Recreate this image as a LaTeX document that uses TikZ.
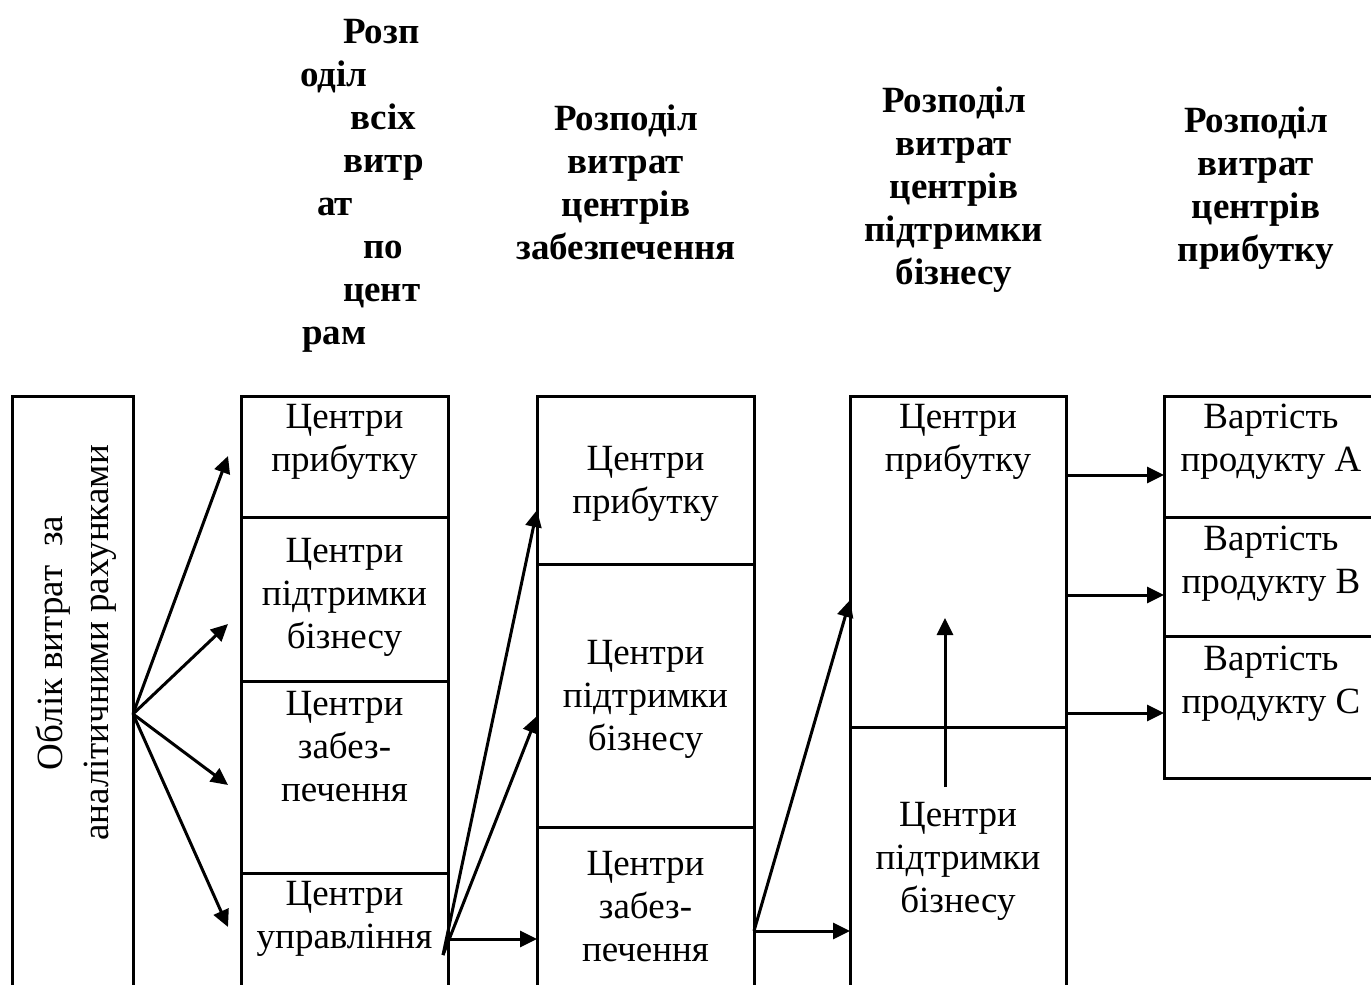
\documentclass[tikz,border=0pt]{standalone}
\usepackage{fontspec}
\setmainfont{Liberation Serif}
\usetikzlibrary{arrows.meta}
\begin{document}
\begin{tikzpicture}[x=1pt,y=-1pt,
  ln/.style={line width=3pt},
  arr/.style={line width=3pt,-{Triangle[length=17pt,width=16pt]}},
  txt/.style={anchor=north,inner sep=0pt,align=center,font=\fontsize{37}{43}\selectfont},
  hdr/.style={anchor=north,inner sep=0pt,align=center,font=\fontsize{37}{43}\selectfont\bfseries}]
\useasboundingbox (0,0) rectangle (1371,985);
\clip (0,0) rectangle (1371,985);

% headers
\node[hdr,anchor=north west,align=left] (h1) at (300,19.5)
 {\hspace*{43pt}Розп\\оділ\\\hspace*{50pt}всіх\\\hspace*{43pt}витр\\\hspace*{17pt}ат\\\hspace*{63pt}по\\\hspace*{43pt}цент\\\hspace*{2pt}рам};
\node[hdr] (h2) at (626,105) {Розподіл\\витрат\\центрів\\забезпечення};
\node[hdr] (h3) at (954,87) {Розподіл\\витрат\\центрів\\підтримки\\бізнесу};
\node[hdr] (h4) at (1256,107) {Розподіл\\витрат\\центрів\\прибутку};

% left box
\draw[ln] (12,1000) -- (12,396) -- (133,396) -- (133,1000);
\node[txt,anchor=center,rotate=90,font=\fontsize{37}{46}\selectfont] (oblik) at (76,643)
 {Облік витрат\ \ за\\аналітичними рахунками};

% column 2
\draw[ln] (241,1000) -- (241,396) -- (448,396) -- (448,1000);
\draw[ln] (241,517) -- (448,517);
\draw[ln] (241,681) -- (448,681);
\draw[ln] (241,873) -- (448,873);
\node[txt] (a1) at (344.5,404) {Центри\\прибутку};
\node[txt] (a2) at (344.5,538) {Центри\\підтримки\\бізнесу};
\node[txt] (a3) at (344.5,691) {Центри\\забез-\\печення};
\node[txt] (a4) at (344.5,881) {Центри\\управління};

% column 3
\draw[ln] (537,1000) -- (537,396) -- (754,396) -- (754,1000);
\draw[ln] (537,564) -- (754,564);
\draw[ln] (537,827) -- (754,827);
\node[txt] (b1) at (645.5,446) {Центри\\прибутку};
\node[txt] (b2) at (645.5,640) {Центри\\підтримки\\бізнесу};
\node[txt] (b3) at (645.5,851) {Центри\\забез-\\печення};

% column 4
\draw[ln] (850,1000) -- (850,396) -- (1066,396) -- (1066,1000);
\draw[ln] (850,727) -- (1066,727);
\node[txt] (c1) at (958,404) {Центри\\прибутку};
\node[txt] (c2) at (958,802) {Центри\\підтримки\\бізнесу};

% column 5
\draw[ln] (1390,778) -- (1164,778) -- (1164,396) -- (1390,396);
\draw[ln] (1164,517) -- (1390,517);
\draw[ln] (1164,636) -- (1390,636);
\node[txt] (d1) at (1271,404) {Вартість\\продукту А};
\node[txt] (d2) at (1271,526) {Вартість\\продукту В};
\node[txt] (d3) at (1271,646) {Вартість\\продукту С};

% connector points
\coordinate (fan) at (133,714);
\coordinate (t1) at (228,456);
\coordinate (t2) at (228,624);
\coordinate (t3) at (228,785);
\coordinate (t4) at (228,927);
\coordinate (s2) at (443,955);
\coordinate (h2) at (447,939);
\coordinate (u1) at (537,510);
\coordinate (u2) at (537,716);
\coordinate (u3) at (537,939);
\coordinate (s3) at (754,931);
\coordinate (w1) at (850,600);
\coordinate (w2) at (850,931);
\coordinate (v0) at (945,787);
\coordinate (v1) at (945,618);
\coordinate (r1) at (1066,475);
\coordinate (r2) at (1066,595);
\coordinate (r3) at (1066,713);
\coordinate (q1) at (1164,475);
\coordinate (q2) at (1164,595);
\coordinate (q3) at (1164,713);

% arrows
\foreach \t in {t1,t2,t3,t4} \draw[arr] (fan) -- (\t);
\draw[arr] (s2) -- (u1);
\draw[arr] (s2) -- (u2);
\draw[arr] (h2) -- (u3);
\draw[arr] (s3) -- (w1);
\draw[arr] (s3) -- (w2);
\draw[arr] (v0) -- (v1);
\draw[arr] (r1) -- (q1);
\draw[arr] (r2) -- (q2);
\draw[arr] (r3) -- (q3);
\end{tikzpicture}
\end{document}
